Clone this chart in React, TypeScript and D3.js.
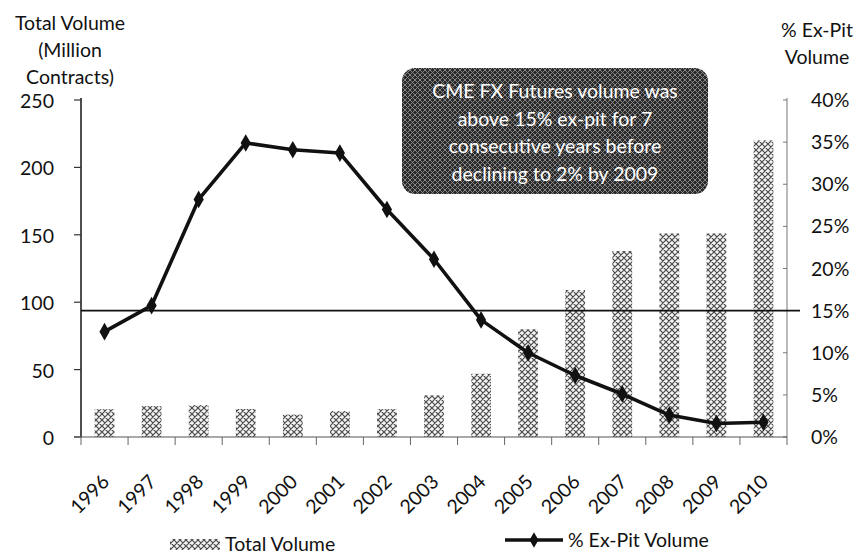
import React from "react";
import * as d3 from "d3";

const years = ["1996","1997","1998","1999","2000","2001","2002","2003","2004","2005","2006","2007","2008","2009","2010"];
const totalVolume = [20.6, 22.9, 23.7, 20.8, 16.6, 19.3, 20.7, 30.9, 46.9, 79.9, 109, 138, 151, 151, 220];
const exPitPct = [12.5, 15.6, 28.2, 34.9, 34.1, 33.7, 27.0, 21.1, 13.9, 10.0, 7.3, 5.1, 2.6, 1.6, 1.75];
const leftTicks = [0, 50, 100, 150, 200, 250];
const rightTicks = [0, 5, 10, 15, 20, 25, 30, 35, 40];
const referencePct = 15;
const noteLines = ["CME FX Futures volume was", "above 15% ex-pit for 7", "consecutive years before", "declining to 2% by 2009"];
const leftTitle = ["Total Volume", "(Million", "Contracts)"];
const rightTitle = ["% Ex-Pit", "Volume"];
const legendBar = "Total Volume";
const legendLine = "% Ex-Pit Volume";

const W = 857, H = 554;
const L = 81, R = 787, T = 100, B = 437;
const FONT = "Lato, 'Open Sans', sans-serif";
const FS = 19.5;

export default function App() {
  const x = d3.scaleBand<string>().domain(years).range([L, R]).paddingInner(0.58).paddingOuter(0.29);
  const yL = d3.scaleLinear().domain([0, 250]).range([B, T]);
  const yR = d3.scaleLinear().domain([0, 40]).range([B, T]);
  const cx = (y: string) => (x(y) as number) + x.bandwidth() / 2;
  const line = d3.line<number>().x((_, i) => cx(years[i])).y((d) => yR(d));
  const step = x.step();
  const boundaries = d3.range(years.length + 1).map((i) => L + i * step);
  const diamond = d3.symbol().type(d3.symbolDiamond).size(90)();
  const diamondSmall = d3.symbol().type(d3.symbolDiamond).size(70)();

  return (
    <svg width={W} height={H} style={{ position: "absolute", left: 0, top: 0, background: "#fff" }} fontFamily={FONT}>
      <defs>
        <pattern id="hatch" width="6" height="6" patternUnits="userSpaceOnUse">
          <rect width="6" height="6" fill="#f4f4f4" />
          <path d="M0,0 L6,6 M6,0 L0,6 M-1,5 L1,7 M5,-1 L7,1 M-1,1 L1,-1 M5,7 L7,5" stroke="#4a4a4a" strokeWidth="1.2" />
        </pattern>
        <pattern id="darkhatch" width="5" height="5" patternUnits="userSpaceOnUse">
          <rect width="5" height="5" fill="#2a2a2a" />
          <path d="M0,0 L5,5 M5,0 L0,5" stroke="#8f8f8f" strokeWidth="0.9" />
        </pattern>
      </defs>

      {/* bars */}
      {years.map((yr, i) => (
        <rect key={yr} x={x(yr)} y={yL(totalVolume[i])} width={x.bandwidth()} height={B - yL(totalVolume[i])} fill="url(#hatch)" />
      ))}

      {/* axes */}
      <line x1={L} y1={T - 2} x2={L} y2={B} stroke="#222" strokeWidth={1.6} />
      {leftTicks.map((t) => (
        <g key={"l" + t}>
          <line x1={L - 7} x2={L} y1={yL(t)} y2={yL(t)} stroke="#333" strokeWidth={1.2} />
          <text x={54} y={yL(t) + 8} textAnchor="end" fontSize={FS} fill="#111">{t}</text>
        </g>
      ))}
      <line x1={R} y1={T - 2} x2={R} y2={B} stroke="#777" strokeWidth={1} />
      {rightTicks.map((t) => (
        <g key={"r" + t}>
          <line x1={R - 4} x2={R} y1={yR(t)} y2={yR(t)} stroke="#777" strokeWidth={1} />
          <text x={811} y={yR(t) + 7} textAnchor="start" fontSize={FS} fill="#111">{t}%</text>
        </g>
      ))}
      <line x1={L - 7} y1={B} x2={R} y2={B} stroke="#555" strokeWidth={1.2} />
      {boundaries.map((bx, i) => (
        <line key={"b" + i} x1={bx} x2={bx} y1={B} y2={B + 8} stroke="#666" strokeWidth={1} />
      ))}
      {years.map((yr) => (
        <text key={"x" + yr} transform={`translate(${cx(yr) + 6},${B + 46}) rotate(-45)`} textAnchor="end" fontSize={FS} fill="#111">{yr}</text>
      ))}

      {/* 15% reference line */}
      <line x1={L} x2={800} y1={yR(referencePct)} y2={yR(referencePct)} stroke="#111" strokeWidth={1.6} />

      {/* ex-pit line */}
      <path d={line(exPitPct) || ""} fill="none" stroke="#111" strokeWidth={3.6} strokeLinejoin="round" />
      {exPitPct.map((v, i) => (
        <path key={"m" + i} d={diamond || ""} transform={`translate(${cx(years[i])},${yR(v)})`} fill="#111" />
      ))}

      {/* annotation */}
      <rect x={402} y={68} width={306} height={126} rx={13} fill="url(#darkhatch)" />
      {noteLines.map((t, i) => (
        <text key={"n" + i} x={555} y={98 + i * 27.5} textAnchor="middle" fontSize={FS} fill="#fff">{t}</text>
      ))}

      {/* axis titles */}
      {leftTitle.map((t, i) => (
        <text key={"lt" + i} x={70} y={30 + i * 27} textAnchor="middle" fontSize={FS} fill="#111">{t}</text>
      ))}
      {rightTitle.map((t, i) => (
        <text key={"rt" + i} x={817} y={37 + i * 26.5} textAnchor="middle" fontSize={FS} fill="#111">{t}</text>
      ))}

      {/* legend */}
      <rect x={170} y={539} width={50} height={11} fill="url(#hatch)" />
      <text x={225} y={551} fontSize={FS} fill="#111">{legendBar}</text>
      <line x1={505} x2={563} y1={540} y2={540} stroke="#111" strokeWidth={3.6} />
      <path d={diamondSmall || ""} transform="translate(534,540)" fill="#111" />
      <text x={568} y={547} fontSize={FS} fill="#111">{legendLine}</text>
    </svg>
  );
}
